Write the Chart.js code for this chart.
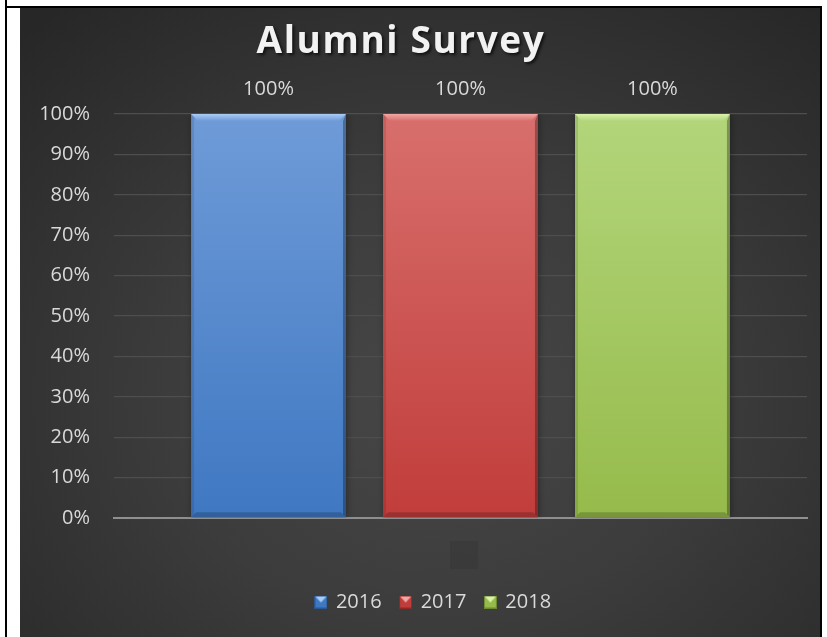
<!DOCTYPE html>
<html>
<head>
<meta charset="utf-8">
<title>Alumni Survey</title>
<script src="https://cdn.jsdelivr.net/npm/chart.js@4.4.1/dist/chart.umd.min.js"></script>
<style>
  html, body { margin: 0; padding: 0; background: #fff; }
  body { width: 827px; height: 637px; position: relative; overflow: hidden; }
  .rule { position: absolute; background: #000; }
  .rule.left  { left: 5px;   top: 0;   width: 2px;   height: 637px; }
  .rule.top   { left: 5px;   top: 6px; width: 817px; height: 2px; }
  .rule.right { left: 820px; top: 6px; width: 2px;   height: 631px; }
  #panel {
    position: absolute; left: 20px; top: 8px; width: 800px; height: 629px;
    background: radial-gradient(ellipse 75% 80% at 52% 62%, #474747 0%, #3c3c3c 45%, #272727 100%);
  }
  #panel canvas { display: block; }
</style>
</head>
<body>
<div class="rule left"></div>
<div class="rule top"></div>
<div class="rule right"></div>
<div id="panel"><canvas id="survey" width="800" height="629"></canvas></div>

<script>
// ---------------------------------------------------------------------------
//  data
// ---------------------------------------------------------------------------
const categories = [""];
const seriesNames = ["2016", "2017", "2018"];
const values2016 = [100];
const values2017 = [100];
const values2018 = [100];
const yTickValues = [0, 10, 20, 30, 40, 50, 60, 70, 80, 90, 100];

// colours per series: gradient top / bottom, bevel light / dark
const palette = [
    { top: "#6f9bd8", bottom: "#3f78c2", light: "#a8ccf4", dark: "#2c5790" },
    { top: "#d86f6c", bottom: "#c13d3b", light: "#f1a7a4", dark: "#8c2927" },
    { top: "#b3d57b", bottom: "#96bb4b", light: "#d9f1aa", dark: "#6b8a31" }
];

Chart.defaults.font.family = "'Open Sans', sans-serif";

// small bevelled square used as legend marker
function makeMarker(p) {
    const c = document.createElement("canvas");
    c.width = 13; c.height = 13;
    const g = c.getContext("2d");
    g.fillStyle = p.dark;
    g.fillRect(0, 0, 13, 13);
    g.fillStyle = p.bottom;
    g.fillRect(1, 1, 11, 11);
    g.fillStyle = p.light;
    g.beginPath();
    g.moveTo(1, 1); g.lineTo(12, 1); g.lineTo(6.5, 7); g.closePath();
    g.fill();
    return c;
}
const markers = palette.map(makeMarker);

function barFill(i) {
    return (ctx) => {
        const area = ctx.chart.chartArea;
        if (!area) return palette[i].bottom;
        const g = ctx.chart.ctx.createLinearGradient(0, area.top, 0, area.bottom);
        g.addColorStop(0, palette[i].top);
        g.addColorStop(1, palette[i].bottom);
        return g;
    };
}

function poly(ctx, pts, fill) {
    ctx.beginPath();
    ctx.moveTo(pts[0][0], pts[0][1]);
    for (let k = 1; k < pts.length; k++) ctx.lineTo(pts[k][0], pts[k][1]);
    ctx.closePath();
    ctx.fillStyle = fill;
    ctx.fill();
}

// ---------------------------------------------------------------------------
//  plugins: bar shadow + bevel, value labels, title, empty axis label box
// ---------------------------------------------------------------------------
const bevelPlugin = {
    id: "bevel",
    afterLayout(chart) {
        // legend sits a bit right of the canvas centre
        const lg = chart.legend;
        if (lg) { lg.left += 20; lg.right += 20; }
    },
    beforeDatasetsDraw(chart) {
        const ctx = chart.ctx;
        ctx.save();
        ctx.shadowColor = "rgba(0,0,0,0.35)";
        ctx.shadowBlur = 6;
        ctx.shadowOffsetX = 1;
    },
    afterDatasetsDraw(chart) {
        const ctx = chart.ctx;
        ctx.restore();
        chart.data.datasets.forEach((ds, i) => {
            const p = palette[i];
            chart.getDatasetMeta(i).data.forEach((bar, j) => {
                const { x, y, base, width } = bar.getProps(["x", "y", "base", "width"], true);
                const l = x - width / 2, r = x + width / 2, t = y, b = base;
                const dt = 7, de = 3, db = 5;
                ctx.save();
                // top highlight
                const tg = ctx.createLinearGradient(0, t, 0, t + dt);
                tg.addColorStop(0, p.light);
                tg.addColorStop(1, p.top);
                poly(ctx, [[l, t], [r, t], [r - dt, t + dt], [l + dt, t + dt]], tg);
                // left edge
                poly(ctx, [[l, t], [l + de, t + de], [l + de, b - de], [l, b]], "rgba(0,0,0,0.10)");
                // right edge
                poly(ctx, [[r, t], [r, b], [r - de, b - de], [r - de, t + dt]], "rgba(0,0,0,0.30)");
                // bottom edge
                poly(ctx, [[l, b], [r, b], [r - db, b - db], [l + db, b - db]], "rgba(0,0,0,0.20)");
                ctx.restore();

                // value label above the bar
                ctx.save();
                ctx.font = "20px 'Open Sans', sans-serif";
                ctx.fillStyle = "#d9d9d9";
                ctx.textAlign = "center";
                ctx.textBaseline = "middle";
                ctx.fillText(ds.data[j] + "%", x, t - 25);
                ctx.restore();
            });
        });
    },
    afterDraw(chart) {
        const ctx = chart.ctx;
        const area = chart.chartArea;

        // empty category label placeholder
        const cx = chart.scales.x.getPixelForValue(0);
        ctx.save();
        ctx.fillStyle = "rgba(0,0,0,0.08)";
        ctx.fillRect(Math.round(cx - 11), area.bottom + 23, 28, 28);
        ctx.restore();

        // chart title
        ctx.save();
        ctx.font = "bold 37px 'Open Sans', sans-serif";
        ctx.letterSpacing = "1.6px";
        ctx.textAlign = "center";
        ctx.textBaseline = "alphabetic";
        ctx.shadowColor = "rgba(0,0,0,0.65)";
        ctx.shadowBlur = 3;
        ctx.shadowOffsetX = 2;
        ctx.shadowOffsetY = 2;
        ctx.fillStyle = "#f2f2f2";
        ctx.fillText("Alumni Survey", 381, 45);
        ctx.restore();
    }
};

new Chart(document.getElementById("survey"), {
    type: "bar",
    data: {
        labels: categories,
        datasets: [
            { label: seriesNames[0], data: values2016, backgroundColor: barFill(0) },
            { label: seriesNames[1], data: values2017, backgroundColor: barFill(1) },
            { label: seriesNames[2], data: values2018, backgroundColor: barFill(2) }
        ]
    },
    options: {
        responsive: false,
        animation: false,
        events: [],
        categoryPercentage: 0.831,
        barPercentage: 0.807,
        layout: { padding: { top: 106, left: 0, right: 13, bottom: 15 } },
        scales: {
            x: {
                display: true,
                ticks: { display: false },
                grid: { display: false },
                border: { display: true, color: "#8f8f8f", width: 2 },
                afterFit: (s) => { s.height = 55; }
            },
            y: {
                min: 0,
                max: 100,
                afterBuildTicks: (s) => { s.ticks = yTickValues.map(v => ({ value: v })); },
                ticks: {
                    color: "#d9d9d9",
                    font: { size: 20 },
                    padding: 24,
                    callback: (v) => v + "%"
                },
                grid: { color: "#4e4e4e", lineWidth: 1.3, drawTicks: false },
                border: { display: false },
                afterFit: (s) => { s.width = 94; }
            }
        },
        plugins: {
            title: { display: false },
            tooltip: { enabled: false },
            legend: {
                position: "bottom",
                labels: {
                    usePointStyle: true,
                    pointStyleWidth: 10,
                    boxWidth: 13,
                    boxHeight: 13,
                    padding: 19,
                    color: "#d9d9d9",
                    font: { size: 20 },
                    generateLabels: (chart) => chart.data.datasets.map((ds, i) => ({
                        text: ds.label,
                        pointStyle: markers[i],
                        fillStyle: palette[i].bottom,
                        strokeStyle: palette[i].dark,
                        lineWidth: 0,
                        fontColor: "#d9d9d9",
                        hidden: false,
                        datasetIndex: i
                    }))
                }
            }
        }
    },
    plugins: [bevelPlugin]
});
</script>
</body>
</html>
